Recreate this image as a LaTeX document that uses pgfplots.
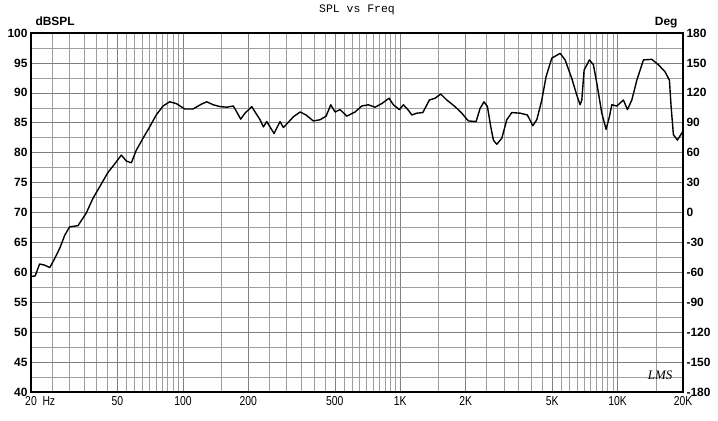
\documentclass[border=0pt]{standalone}
\usepackage{fontspec}
\setmainfont{Liberation Sans}
\newfontfamily\monofont{Liberation Mono}
\newfontfamily\narrowfont[FakeStretch=0.8]{Liberation Sans}
\newfontfamily\logofont{Liberation Serif}
\usepackage{pgfplots}
\usepackage{pgfplotstable}
\pgfplotsset{compat=1.18}

% SPL response, frequency in Hz, level in dB
\pgfplotstableread{
f spl
20 59.3
20.9 59.4
21.9 61.4
23.1 61.2
24.4 60.8
25.7 62.3
27.1 64.0
28.6 66.2
30.1 67.6
32.9 67.8
35.9 69.9
38.6 72.4
41.4 74.3
45.2 76.7
48.5 78.1
52.1 79.6
54.9 78.6
57.9 78.3
61.0 80.4
65.5 82.4
70.3 84.3
75.4 86.3
81.0 87.8
86.9 88.5
93.3 88.2
101.9 87.3
111.3 87.3
121.5 88.1
128.7 88.5
138.0 88.0
148.2 87.7
159.1 87.6
170.6 87.8
176.9 86.8
184.5 85.6
193.1 86.6
207.4 87.7
214.8 86.8
226.4 85.5
234.5 84.3
243.0 85.2
251.8 84.3
262.6 83.2
272.0 84.3
279.8 85.2
289.8 84.2
302.3 84.9
322.3 86.0
346.0 86.8
368.6 86.3
398.2 85.3
427.6 85.5
455.8 86.1
478.8 88.0
501.2 86.8
528.4 87.2
567.4 86.1
619.5 86.8
665.1 87.8
713.4 88.0
765.9 87.6
822.2 88.2
888.3 89.1
929.7 88.0
990.9 87.2
1033.6 88.0
1089.8 87.1
1129.9 86.3
1191.4 86.6
1269.8 86.7
1361.6 88.8
1446 89.1
1536 89.8
1637 88.8
1787 87.7
1919 86.6
2058 85.3
2234 85.2
2330 87.4
2430 88.5
2518 87.7
2610 84.3
2683 82.1
2780 81.4
2932 82.4
3092 85.5
3260 86.7
3560 86.6
3846 86.3
4073 84.5
4250 85.5
4480 88.8
4688 92.7
4980 95.8
5440 96.6
5736 95.5
6156 92.4
6492 89.6
6724 88.0
6846 88.8
7014 93.8
7420 95.5
7740 94.7
8024 91.6
8460 86.6
8854 83.9
9168 86.0
9406 88.0
9920 87.8
10636 88.8
11098 87.2
11628 88.8
12260 92.1
13150 95.5
14372 95.6
15412 94.7
16546 93.5
17318 92.1
17632 87.7
18068 83.0
18848 82.1
19540 83.0
20000 83.6
}\spltable

\begin{document}
\begin{tikzpicture}
\useasboundingbox (-31bp,-29bp) rectangle (687bp,392bp);
\begin{axis}[
  at={(0,0)}, anchor=south west,
  scale only axis,
  width=652bp, height=359bp,
  xmode=log,
  xmin=20, xmax=20000,
  ymin=40, ymax=100,
  xtick={20,50,100,200,500,1000,2000,5000,10000,20000},
  xticklabels={20\rlap{\ \ Hz},50,100,200,500,1K,2K,5K,10K,20K},
  minor xtick={25,30,35,40,45,55,60,65,70,75,80,85,90,95,150,250,300,350,400,450,550,600,650,700,750,800,850,900,950,1500,2500,3000,3500,4000,4500,5500,6000,6500,7000,7500,8000,8500,9000,9500,15000},
  ytick={40,45,...,100},
  minor ytick={42.5,47.5,...,97.5},
  grid=both,
  major grid style={black!50, line width=0.6pt},
  minor grid style={black!38, line width=0.5pt},
  major tick length=0pt, minor tick length=0pt,
  axis line style={line width=1.4pt},
  /pgf/number format/assume math mode=true,
  xticklabel style={font=\narrowfont\fontsize{13}{14}\selectfont, yshift=-1bp},
  yticklabel style={font=\bfseries\fontsize{12}{13}\selectfont},
  clip=true,
]
\addplot[black, line width=1.4pt, line join=round] table[x=f, y=spl] {\spltable};
\node[font=\logofont\itshape\fontsize{13}{13}\selectfont] at (axis cs:15700,42.8) {LMS};
\end{axis}
\begin{axis}[
  at={(0,0)}, anchor=south west,
  scale only axis,
  width=652bp, height=359bp,
  xmode=log, xmin=20, xmax=20000,
  hide x axis,
  axis y line*=right,
  ymin=-180, ymax=180,
  ytick={-180,-150,...,180},
  major tick length=0pt,
  axis line style={line width=1.4pt},
  /pgf/number format/assume math mode=true,
  yticklabel style={font=\bfseries\fontsize{12}{13}\selectfont},
]
\end{axis}
\node[anchor=base west, font=\bfseries\fontsize{12}{13}\selectfont] at (1bp,366bp) {dBSPL};
\node[anchor=base east, font=\bfseries\fontsize{12}{13}\selectfont] at (650bp,366bp) {Deg};
\node[anchor=base, font=\monofont\fontsize{11.5}{12}\selectfont] at (326bp,379bp) {SPL vs Freq};
\end{tikzpicture}
\end{document}
